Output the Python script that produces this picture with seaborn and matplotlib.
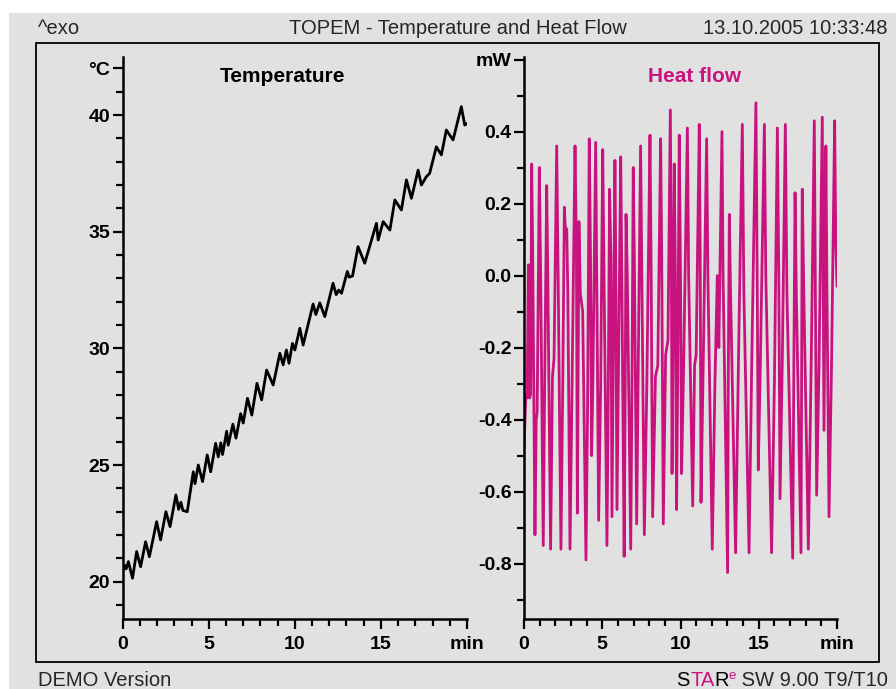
import numpy as np
import pandas as pd
import matplotlib
matplotlib.use("Agg")
import matplotlib.pyplot as plt
import seaborn as sns
from matplotlib.patches import Rectangle
from matplotlib.ticker import MultipleLocator, FixedLocator, FixedFormatter

# ---------------- data ----------------
temp_time = [0.00, 0.12, 0.20, 0.33, 0.57, 0.81, 1.04, 1.33, 1.55, 1.97, 2.20, 2.51, 2.75,
             3.09, 3.25, 3.38, 3.50, 3.75, 4.10, 4.20, 4.39, 4.64, 4.91, 5.11, 5.40, 5.55,
             5.70, 5.80, 6.04, 6.13, 6.40, 6.58, 6.85, 7.00, 7.25, 7.50, 7.80, 8.07, 8.36,
             8.74, 9.13, 9.32, 9.51, 9.66, 9.86, 10.00, 10.29, 10.48, 11.06, 11.22, 11.45,
             11.74, 12.22, 12.40, 12.55, 12.71, 13.05, 13.15, 13.35, 13.67, 14.06, 14.74,
             14.84, 15.13, 15.52, 15.81, 16.19, 16.48, 16.77, 17.16, 17.35, 17.64, 17.83,
             18.22, 18.51, 18.80, 19.19, 19.67, 19.87, 20.00]
temp_value = [20.45, 20.70, 20.55, 20.86, 20.15, 21.29, 20.64, 21.71, 21.07, 22.57, 21.79, 23.00, 22.36,
              23.72, 23.10, 23.40, 23.05, 23.00, 24.71, 24.20, 25.00, 24.29, 25.43, 24.71, 25.93, 25.35,
              25.95, 25.45, 26.45, 25.85, 26.75, 26.15, 27.20, 26.80, 27.86, 27.14, 28.50, 27.79, 29.07,
              28.43, 29.79, 29.29, 29.93, 29.36, 30.21, 29.93, 30.86, 30.14, 31.90, 31.45, 31.95,
              31.36, 32.79, 32.30, 32.50, 32.36, 33.30, 33.05, 33.10, 34.36, 33.65, 35.36,
              34.64, 35.43, 35.07, 36.36, 35.93, 37.22, 36.43, 37.64, 37.00, 37.36, 37.50,
              38.64, 38.29, 39.36, 38.93, 40.36, 39.57, 39.64]

hf_time = [0.00, 0.12, 0.20, 0.28, 0.36, 0.42, 0.49, 0.55, 0.70, 0.78, 0.84, 0.98, 1.06, 1.23,
           1.32, 1.45, 1.52, 1.70, 1.82, 1.92, 2.09, 2.18, 2.36, 2.48, 2.58, 2.64, 2.73, 2.80,
           2.94, 3.08, 3.26, 3.35, 3.41, 3.51, 3.60, 3.75, 3.96, 4.06, 4.17, 4.25, 4.32, 4.40,
           4.58, 4.65, 4.77, 4.90, 5.03, 5.12, 5.30, 5.38, 5.47, 5.55, 5.62, 5.70, 5.81, 5.86,
           5.94, 6.05, 6.18, 6.25, 6.40, 6.47, 6.52, 6.60, 6.82, 6.90, 6.98, 7.05, 7.20, 7.30,
           7.45, 7.52, 7.69, 7.85, 8.05, 8.12, 8.22, 8.40, 8.55, 8.73, 8.80, 8.90, 9.05, 9.20,
           9.35, 9.42, 9.46, 9.52, 9.60, 9.67, 9.75, 9.82, 9.92, 10.00, 10.07, 10.20, 10.44,
           10.52, 10.78, 10.90, 11.00, 11.20, 11.26, 11.31, 11.45, 11.67, 11.75, 12.03, 12.20,
           12.35, 12.45, 12.65, 12.72, 13.01, 13.05, 13.12, 13.20, 13.52, 13.70, 13.95, 14.05,
           14.38, 14.55, 14.82, 14.90, 14.97, 15.10, 15.36, 15.45, 15.82, 16.00, 16.19, 16.28,
           16.36, 16.50, 16.70, 16.80, 17.17, 17.25, 17.32, 17.40, 17.70, 17.75, 17.78, 17.88,
           18.17, 18.35, 18.55, 18.62, 18.70, 18.85, 19.06, 19.12, 19.17, 19.29, 19.35, 19.49,
           19.65, 19.85, 19.92, 20.00]
hf_value = [-0.48, -0.33, -0.34, 0.03, -0.34, -0.33, 0.31, 0.09, -0.72, -0.40, -0.38, 0.30, 0.02, -0.75,
            -0.30, 0.25, 0.00, -0.76, -0.28, -0.23, 0.36, 0.00, -0.76, -0.29, 0.19, 0.13, 0.13, -0.05,
            -0.76, -0.28, 0.36, 0.08, -0.66, 0.15, -0.05, -0.10, -0.79, -0.38, 0.38, 0.05, -0.50, -0.30,
            0.37, -0.02, -0.68, -0.30, 0.35, -0.03, -0.75, -0.35, 0.24, 0.05, -0.67, -0.25, 0.32, 0.05,
            -0.65, -0.20, 0.33, 0.00, -0.78, -0.30, 0.17, 0.00, -0.76, -0.30, 0.30, 0.05, -0.69, -0.25,
            0.36, 0.05, -0.72, -0.30, 0.39, 0.05, -0.67, -0.28, -0.25, 0.38, 0.05, -0.69, -0.22, -0.18,
            0.46, 0.00, -0.55, -0.20, 0.31, 0.00, -0.65, -0.28, 0.39, 0.00, -0.55, -0.25, 0.41,
            0.00, -0.64, -0.25, -0.22, 0.42, 0.05, -0.63, -0.25, 0.38, 0.00, -0.76, -0.30,
            0.00, -0.20, 0.40, 0.00, -0.825, -0.30, 0.17, -0.05, -0.77, -0.25, 0.42, -0.05,
            -0.77, -0.25, 0.48, 0.00, -0.54, -0.25, 0.42, 0.00, -0.77, -0.30, 0.41, 0.00,
            -0.62, -0.25, 0.42, -0.05, -0.785, -0.20, 0.23, -0.05, -0.77, -0.10, 0.24, -0.05,
            -0.76, -0.25, 0.43, -0.05, -0.61, -0.25, 0.44, -0.05, -0.43, 0.36, 0.00, -0.67,
            -0.25, 0.43, 0.10, -0.03]

x_major = [0, 5, 10, 15, 20]
x_labels = ["0", "5", "10", "15", "min"]
temp_ticks = [20, 25, 30, 35, 40, 42]
temp_labels = ["20", "25", "30", "35", "40", "°C"]
hf_ticks = [-0.8, -0.6, -0.4, -0.2, 0.0, 0.2, 0.4, 0.6]
hf_labels = ["-0.8", "-0.6", "-0.4", "-0.2", "0.0", "0.2", "0.4", "mW"]

# ---------------- style ----------------
BG = "#E1E1E1"
MAG = "#C8137F"
sns.set_theme(style="ticks")
plt.rcParams["font.family"] = ["Liberation Sans", "DejaVu Sans"]
plt.rcParams["axes.facecolor"] = "none"

W, H = 896, 689
fig = plt.figure(figsize=(W / 100, H / 100), dpi=100, facecolor="white")
fig.patches.append(Rectangle((9 / W, 0), 1 - 9 / W, 1 - 13 / H, transform=fig.transFigure,
                             facecolor=BG, edgecolor="none", zorder=-10))
fig.patches.append(Rectangle((36 / W, 1 - 662 / H), (879 - 36) / W, (662 - 43) / H,
                             transform=fig.transFigure, fill=False, edgecolor="black",
                             lw=1.3, zorder=-5))


def px(x0, y0, x1, y1):
    return [x0 / W, 1 - y1 / H, (x1 - x0) / W, (y1 - y0) / H]


ax1 = fig.add_axes(px(122.7, 56.7, 467, 619))
ax2 = fig.add_axes(px(524, 56.7, 837, 619))

df_t = pd.DataFrame({"time": temp_time, "temp": temp_value})
df_h = pd.DataFrame({"time": hf_time, "hf": hf_value})
sns.lineplot(data=df_t, x="time", y="temp", ax=ax1, color="black", lw=2.0,
             estimator=None, sort=False)
sns.lineplot(data=df_h, x="time", y="hf", ax=ax2, color=MAG, lw=2.0,
             estimator=None, sort=False)

ax1.set_ylim(18.4, 42.5)
ax2.set_ylim(-0.954, 0.608)

for ax, yt, yl, ymin in [(ax1, temp_ticks, temp_labels, 1), (ax2, hf_ticks, hf_labels, 0.1)]:
    ax.set_xlim(0, 20)
    ax.set_xlabel("")
    ax.set_ylabel("")
    ax.xaxis.set_major_locator(FixedLocator(x_major))
    ax.xaxis.set_major_formatter(FixedFormatter(x_labels))
    ax.xaxis.set_minor_locator(MultipleLocator(1))
    ax.yaxis.set_major_locator(FixedLocator(yt))
    ax.yaxis.set_major_formatter(FixedFormatter(yl))
    ax.yaxis.set_minor_locator(MultipleLocator(ymin))
    for s in ["top", "right"]:
        ax.spines[s].set_visible(False)
    for s in ["left", "bottom"]:
        ax.spines[s].set_color("black")
        ax.spines[s].set_linewidth(1.8)
    ax.tick_params(which="major", direction="out", length=7, width=1.6, color="black",
                   labelsize=14, labelcolor="black")
    ax.tick_params(which="minor", direction="out", length=5, width=1.6, color="black")
    ax.tick_params(axis="y", which="major", pad=2)
    ax.tick_params(axis="x", which="major", pad=5)
    for lab in ax.get_xticklabels() + ax.get_yticklabels():
        lab.set_fontweight("bold")
    ax.grid(False)
    ax.patch.set_visible(False)

# panel titles
fig.text(282 / W, 1 - 77 / H, "Temperature", ha="center", va="center",
         fontsize=15, fontweight="bold", color="black")
fig.text(695 / W, 1 - 77 / H, "Heat flow", ha="center", va="center",
         fontsize=15, fontweight="bold", color=MAG)

# header
fig.text(38 / W, 1 - 29 / H, "^exo", ha="left", va="center", fontsize=14.5)
fig.text(458 / W, 1 - 29 / H, "TOPEM - Temperature and Heat Flow", ha="center",
         va="center", fontsize=14.5)
fig.text(887 / W, 1 - 29 / H, "13.10.2005 10:33:48", ha="right", va="center", fontsize=14.5)

# footer
fig.text(38 / W, 1 - 680 / H, "DEMO Version", ha="left", va="center", fontsize=14.5)
t1 = fig.text(888 / W, 1 - 680 / H, " SW 9.00 T9/T10", ha="right", va="center", fontsize=14.5)
t_e = plt.annotate("e", xy=(0, 0.42), xycoords=t1, ha="right", va="bottom",
                   fontsize=9.5, color=MAG, annotation_clip=False)
t_r = plt.annotate("R", xy=(0, 0), xycoords=(t_e, t1), ha="right", va="bottom",
                   fontsize=14.5, color="black", annotation_clip=False)
t_ta = plt.annotate("TA", xy=(0, 0), xycoords=(t_r, t1), ha="right", va="bottom",
                    fontsize=14.5, color=MAG, annotation_clip=False)
t_s = plt.annotate("S", xy=(0, 0), xycoords=(t_ta, t1), ha="right", va="bottom",
                   fontsize=14.5, color="black", annotation_clip=False)

fig.savefig("out.png", dpi=100, facecolor=fig.get_facecolor())
